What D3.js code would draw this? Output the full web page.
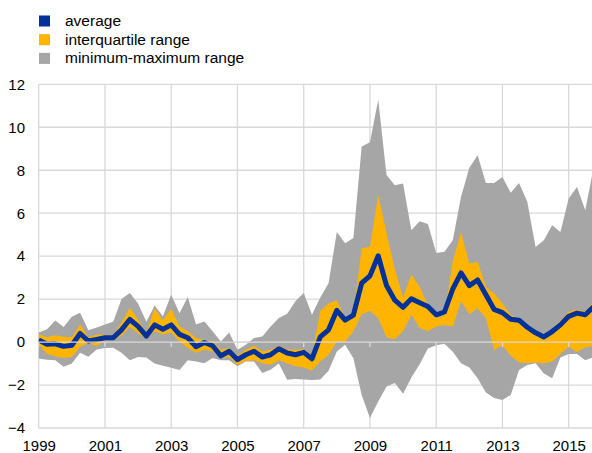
<!DOCTYPE html>
<html>
<head>
<meta charset="utf-8">
<script src="https://cdn.jsdelivr.net/npm/d3@7"></script>
<style>
  html, body { margin: 0; padding: 0; background: #fff; }
  svg { display: block; font-family: "Liberation Sans", Arial, sans-serif; }
</style>
</head>
<body>
<svg id="chart" width="592" height="453"></svg>
<script>
// ---- data ----
const quarters = [
  "1999Q1","1999Q2","1999Q3","1999Q4","2000Q1","2000Q2","2000Q3","2000Q4",
  "2001Q1","2001Q2","2001Q3","2001Q4","2002Q1","2002Q2","2002Q3","2002Q4",
  "2003Q1","2003Q2","2003Q3","2003Q4","2004Q1","2004Q2","2004Q3","2004Q4",
  "2005Q1","2005Q2","2005Q3","2005Q4","2006Q1","2006Q2","2006Q3","2006Q4",
  "2007Q1","2007Q2","2007Q3","2007Q4","2008Q1","2008Q2","2008Q3","2008Q4",
  "2009Q1","2009Q2","2009Q3","2009Q4","2010Q1","2010Q2","2010Q3","2010Q4",
  "2011Q1","2011Q2","2011Q3","2011Q4","2012Q1","2012Q2","2012Q3","2012Q4",
  "2013Q1","2013Q2","2013Q3","2013Q4","2014Q1","2014Q2","2014Q3","2014Q4",
  "2015Q1","2015Q2","2015Q3","2015Q4"
];
const minimum = [
  -0.77,-0.82,-0.85,-1.15,-1.0,-0.5,-0.68,-0.35,
  -0.28,-0.26,-0.5,-0.85,-0.7,-0.72,-1.0,-1.1,
  -1.2,-1.3,-0.85,-0.9,-0.98,-0.74,-0.85,-0.85,
  -1.13,-0.9,-0.9,-1.44,-1.29,-1.0,-1.75,-1.72,
  -1.74,-1.76,-1.74,-1.34,-0.44,-0.13,-0.75,-2.46,
  -3.54,-2.77,-2.07,-1.91,-2.4,-1.65,-1.03,-0.3,
  -0.15,-0.08,-0.45,-0.98,-1.18,-1.68,-2.35,-2.6,
  -2.7,-2.46,-1.3,-1.07,-0.99,-1.46,-1.68,-0.72,
  -0.56,-0.56,-0.85,-0.7
];
const lowerQuartile = [
  -0.12,-0.55,-0.66,-0.74,-0.7,-0.22,-0.05,-0.2,
  0.08,0.1,0.3,0.7,0.4,0.15,0.5,0.35,
  0.45,0.03,-0.28,-0.5,-0.36,-0.43,-0.74,-0.7,
  -1.05,-0.88,-0.85,-0.98,-1.05,-0.85,-0.98,-1.13,
  -1.18,-1.32,-0.9,-0.6,0.02,0.02,0.49,1.29,
  1.45,1.11,0.22,0.13,0.5,1.27,0.65,0.5,
  0.72,0.8,0.72,1.9,1.3,1.57,1.1,-0.37,
  -0.15,-0.64,-0.95,-0.97,-0.95,-1.0,-0.9,-0.55,
  -0.22,-0.46,-0.25,-0.18
];
const average = [
  0.1,-0.1,-0.08,-0.2,-0.15,0.4,0.05,0.12,
  0.2,0.2,0.57,1.05,0.73,0.28,0.8,0.6,
  0.8,0.36,0.2,-0.22,-0.02,-0.17,-0.64,-0.43,
  -0.82,-0.59,-0.43,-0.7,-0.59,-0.31,-0.51,-0.59,
  -0.48,-0.78,0.24,0.57,1.48,1.02,1.25,2.74,
  3.08,4.02,2.63,1.95,1.62,2.02,1.83,1.66,
  1.27,1.4,2.47,3.22,2.63,2.89,2.2,1.52,
  1.37,1.06,1.02,0.69,0.43,0.24,0.49,0.8,
  1.2,1.35,1.27,1.64
];
const upperQuartile = [
  0.38,0.22,0.32,0.25,0.22,0.82,0.22,0.34,
  0.34,0.32,0.9,1.6,1.05,0.42,1.58,1.0,
  1.55,0.73,0.5,0.19,0.1,0.03,-0.36,-0.28,
  -0.64,-0.36,-0.17,-0.43,-0.36,-0.17,-0.33,-0.36,
  -0.32,-0.6,1.45,1.8,1.95,1.11,1.28,4.36,
  4.45,6.85,5.1,3.4,2.07,3.14,2.58,1.7,
  1.12,1.26,3.74,5.13,3.66,3.74,2.57,2.26,
  1.8,1.26,1.05,0.7,0.4,0.25,0.62,0.99,
  1.41,1.52,1.41,1.88
];
const maximum = [
  0.45,0.6,1.0,0.7,1.18,1.36,0.55,0.68,
  0.82,0.95,2.0,2.28,1.8,0.95,1.7,1.2,
  2.2,1.34,2.1,0.82,0.96,0.5,0.03,0.45,
  -0.36,-0.12,0.19,0.26,0.73,1.12,1.32,1.9,
  2.28,1.27,2.07,2.74,5.12,4.6,4.85,9.1,
  9.3,11.28,7.78,7.3,7.38,5.2,5.62,5.5,
  4.15,4.2,4.74,6.76,8.12,8.7,7.41,7.41,
  7.69,6.95,7.41,6.53,4.43,4.74,5.44,5.13,
  6.68,7.22,6.14,8.1
];
const yearTicks = [1999, 2001, 2003, 2005, 2007, 2009, 2011, 2013, 2015];
const valueTicks = [-4, -2, 0, 2, 4, 6, 8, 10, 12];
const legendLabels = ["average", "interquartile range", "minimum-maximum range"];

// ---- styles ----
const colBlue = "#003299", colYellow = "#FFB400", colGrey = "#A6A6A6", colGrid = "#D9D9D9";
const fontFam = "'Liberation Sans', Arial, sans-serif";

// ---- build ----
const rows = quarters.map((q, i) => ({
  t: +q.slice(0, 4) + (+q.slice(5) - 1) / 4,
  min: minimum[i], q1: lowerQuartile[i], avg: average[i], q3: upperQuartile[i], max: maximum[i]
}));

const svg = d3.select("#chart");
svg.append("rect").attr("width", 592).attr("height", 453).attr("fill", "#fff");

const x = d3.scaleLinear().domain([1999, 2016]).range([38.7, 38.7 + 17 * 33.125]);
const y = d3.scaleLinear().domain([-4, 12]).range([428, 84.3]);
const right = 592;

// gridlines
svg.append("g").selectAll("line").data(valueTicks).join("line")
  .attr("x1", x(1999)).attr("x2", right)
  .attr("y1", d => y(d)).attr("y2", d => y(d))
  .attr("stroke", colGrid).attr("stroke-width", 1.3);
svg.append("g").selectAll("line").data(yearTicks).join("line")
  .attr("x1", d => x(d)).attr("x2", d => x(d))
  .attr("y1", y(12)).attr("y2", y(-4))
  .attr("stroke", colGrid).attr("stroke-width", 1.3);

// areas
svg.append("clipPath").attr("id", "clip").append("rect")
  .attr("x", x(1999)).attr("y", 0).attr("width", right - x(1999)).attr("height", 453);
const plot = svg.append("g").attr("clip-path", "url(#clip)");

plot.append("path").datum(rows)
  .attr("fill", colGrey)
  .attr("d", d3.area().x(d => x(d.t)).y0(d => y(d.min)).y1(d => y(d.max)));
plot.append("path").datum(rows)
  .attr("fill", colYellow)
  .attr("d", d3.area().x(d => x(d.t)).y0(d => y(d.q1)).y1(d => y(d.q3)));

// zero axis line with ticks
svg.append("line").attr("x1", x(1999)).attr("x2", right)
  .attr("y1", y(0)).attr("y2", y(0))
  .attr("stroke", colGrid).attr("stroke-width", 1.3);
svg.append("g").selectAll("line").data(yearTicks).join("line")
  .attr("x1", d => x(d)).attr("x2", d => x(d))
  .attr("y1", y(0)).attr("y2", y(0) + 5)
  .attr("stroke", colGrid).attr("stroke-width", 1.3);

// average line
plot.append("path").datum(rows)
  .attr("fill", "none").attr("stroke", colBlue).attr("stroke-width", 5)
  .attr("stroke-linejoin", "round")
  .attr("d", d3.line().x(d => x(d.t)).y(d => y(d.avg)));

// axes labels
const yAxis = d3.axisLeft(y).tickValues(valueTicks).tickSize(0).tickPadding(0);
const gy = svg.append("g").attr("transform", "translate(25,0)").call(yAxis);
gy.select(".domain").remove();
gy.selectAll("text").attr("font-size", 15).attr("fill", "#000").attr("font-family", fontFam);

const xAxis = d3.axisBottom(x).tickValues(yearTicks).tickFormat(d3.format("d")).tickSize(0).tickPadding(0);
const gx = svg.append("g").attr("transform", "translate(0,440)").call(xAxis);
gx.select(".domain").remove();
gx.selectAll("text").attr("font-size", 15).attr("fill", "#000").attr("dy", "0.71em")
  .attr("font-family", fontFam);

// legend
const legColors = [colBlue, colYellow, colGrey];
const leg = svg.append("g");
legendLabels.forEach((lab, i) => {
  leg.append("rect").attr("x", 39).attr("y", 15.5 + i * 18.7).attr("width", 11).attr("height", 11)
    .attr("fill", legColors[i]);
  leg.append("text").attr("x", 65).attr("y", 20.5 + i * 18.7).attr("dy", "0.35em")
    .attr("font-size", 15.5).attr("fill", "#000").attr("font-family", fontFam).text(lab);
});
</script>
</body>
</html>
